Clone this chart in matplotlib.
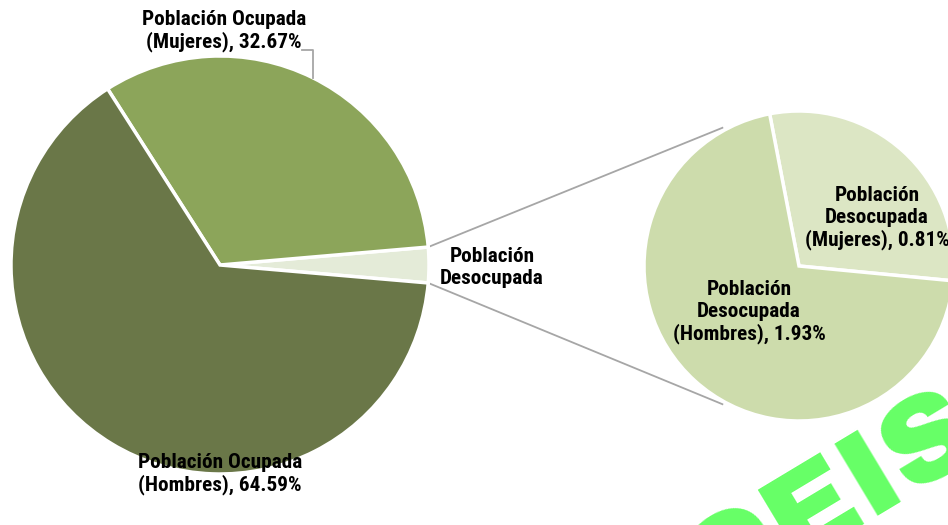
import matplotlib
matplotlib.use("Agg")
import matplotlib.pyplot as plt
import numpy as np

# Data
main_labels = ["Población\nDesocupada", "Población Ocupada\n(Mujeres), 32.67%", "Población Ocupada\n(Hombres), 64.59%"]
ocupada_mujeres = 32.67
ocupada_hombres = 64.59
desocupada_hombres = 1.93
desocupada_mujeres = 0.81
desocupada_total = desocupada_hombres + desocupada_mujeres
main_values = [desocupada_total, ocupada_mujeres, ocupada_hombres]
main_colors = ["#E4EBD8", "#8CA55A", "#6A7748"]
sub_labels = ["Población\nDesocupada\n(Mujeres), 0.81%", "Población\nDesocupada\n(Hombres), 1.93%"]
sub_values = [desocupada_mujeres, desocupada_hombres]
sub_colors = ["#DCE6C4", "#CDDCAC"]
watermark = "CEIS"

W, H = 948, 525
fig = plt.figure(figsize=(W / 100, H / 100), dpi=100)
ax = fig.add_axes([0, 0, 1, 1])

FONT = ["Roboto Condensed", "DejaVu Sans"]
FS = 15.3
LS = 1.2

# main pie
c1 = (220, H - 265)
r1 = 209
half = desocupada_total / sum(main_values) * 360 / 2
ax.pie(main_values, colors=main_colors, startangle=-half, counterclock=True,
       center=c1, radius=r1, wedgeprops=dict(edgecolor="white", linewidth=2.5))

# secondary pie
c2 = (799, H - 266)
r2 = 155
ax.pie(sub_values, colors=sub_colors, startangle=-5.5, counterclock=True,
       center=c2, radius=r2, wedgeprops=dict(edgecolor="white", linewidth=2.5))

# connector lines
for s in (1, -1):
    a1 = np.deg2rad(s * half)
    p1 = (c1[0] + r1 * np.cos(a1), c1[1] + r1 * np.sin(a1))
    a2 = np.deg2rad(s * 119)
    p2 = (c2[0] + (r2 + 3) * np.cos(a2), c2[1] + (r2 + 3) * np.sin(a2))
    ax.plot([p1[0], p2[0]], [p1[1], p2[1]], color="#A6A6A6", lw=1.3, zorder=0)

def lab(x, y, s):
    ax.text(x, H - y, s, ha="center", va="center", fontsize=FS,
            fontweight="bold", family=FONT, linespacing=LS, color="black")

lab(224, 31, main_labels[1])
ax.plot([302, 313, 313], [H - 50, H - 50, H - 78], color="#A6A6A6", lw=1.3)
lab(220, 474, main_labels[2])
lab(492, 267, main_labels[0])
lab(877, 218, sub_labels[0])
lab(749, 312, sub_labels[1])

# watermark
ax.text(712, H - 612, watermark, ha="left", va="baseline", rotation_mode="anchor",
        fontsize=88, family=["Archivo Black", "DejaVu Sans"],
        color="#66FF66", rotation=31, zorder=5)

ax.set_xlim(0, W)
ax.set_ylim(0, H)
ax.set_aspect("equal")
ax.axis("off")
fig.savefig("out.png", dpi=100)
